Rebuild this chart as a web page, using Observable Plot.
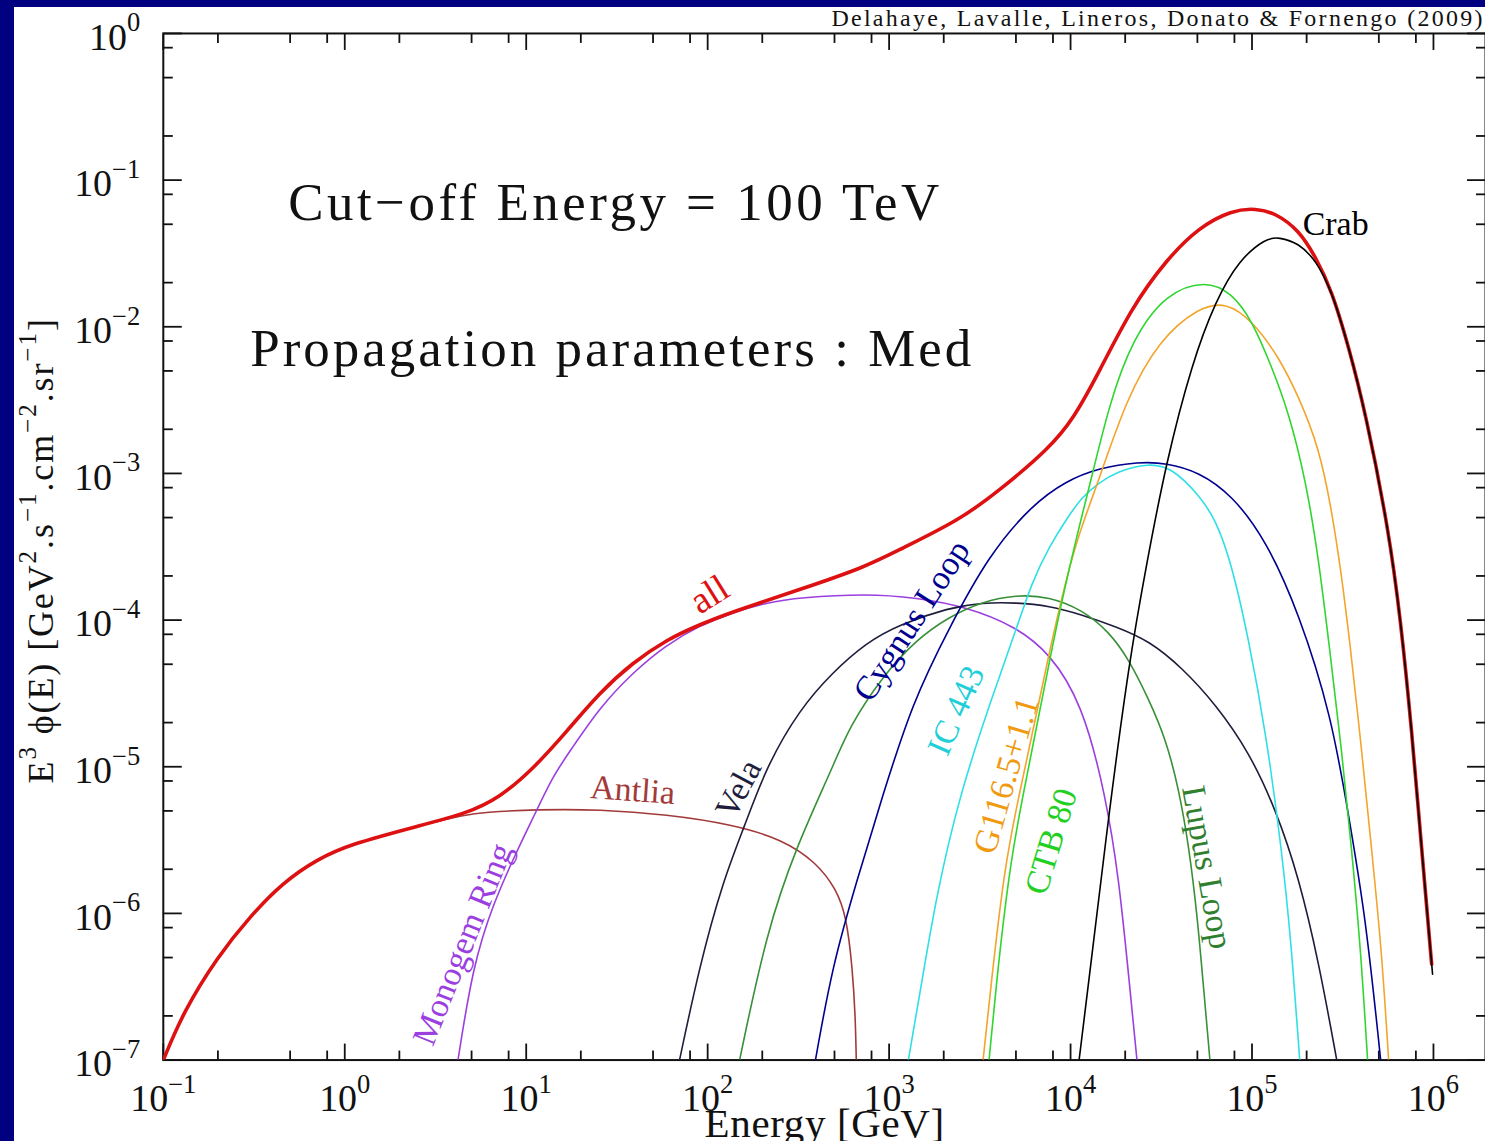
<!DOCTYPE html>
<html><head><meta charset="utf-8">
<script src="https://cdn.jsdelivr.net/npm/d3@7"></script>
<script src="https://cdn.jsdelivr.net/npm/@observablehq/plot@0.6"></script>
<style>
html,body{margin:0;padding:0;background:#000080;width:1485px;height:1141px;overflow:hidden;}
#panel{position:absolute;left:14px;top:7px;width:1471px;height:1134px;background:#fff;overflow:hidden;}
#panel svg{display:block;}
</style></head>
<body><div id="panel"></div>
<script>
// ---------------- data: [log10 E (GeV), log10 E^3 phi(E)] ----------------
const allLog = [[-1.000,-7.000],[-0.890,-6.673],[-0.703,-6.298],[-0.521,-6.019],[-0.340,-5.788],[-0.152,-5.631],[0.029,-5.529],[0.398,-5.406],[0.673,-5.318],[0.855,-5.209],[1.036,-5.018],[1.223,-4.760],[1.405,-4.494],[1.587,-4.290],[1.774,-4.133],[1.955,-4.031],[2.137,-3.943],[2.506,-3.793],[2.874,-3.636],[3.056,-3.520],[3.386,-3.320],[3.606,-3.118],[3.882,-2.830],[4.019,-2.622],[4.157,-2.308],[4.338,-1.866],[4.526,-1.546],[4.707,-1.321],[4.889,-1.205],[5.021,-1.192],[5.131,-1.226],[5.258,-1.341],[5.351,-1.525],[5.439,-1.750],[5.533,-2.138],[5.626,-2.588],[5.753,-3.384],[5.819,-3.997],[5.880,-4.746],[5.935,-5.563],[5.990,-6.346]];
const antliaLog = [[-1.000,-7.000],[-0.890,-6.673],[-0.703,-6.298],[-0.521,-6.019],[-0.340,-5.788],[-0.152,-5.631],[0.029,-5.529],[0.398,-5.406],[0.673,-5.325],[0.761,-5.311],[1.058,-5.291],[1.405,-5.291],[1.774,-5.325],[2.137,-5.393],[2.412,-5.495],[2.599,-5.652],[2.709,-5.835],[2.764,-6.019],[2.797,-6.360],[2.814,-6.700],[2.819,-7.000]];
const monogemLog = [[0.624,-7.000],[0.706,-6.360],[0.816,-5.938],[0.948,-5.577],[1.047,-5.325],[1.146,-5.066],[1.240,-4.896],[1.405,-4.596],[1.587,-4.358],[1.774,-4.167],[1.955,-4.038],[2.137,-3.949],[2.324,-3.881],[2.506,-3.847],[2.874,-3.820],[3.150,-3.847],[3.425,-3.909],[3.700,-4.045],[3.882,-4.222],[4.063,-4.562],[4.195,-5.202],[4.267,-5.767],[4.322,-6.448],[4.366,-7.000]];
const velaLog = [[1.845,-7.000],[1.955,-6.360],[2.082,-5.788],[2.203,-5.406],[2.324,-4.998],[2.506,-4.610],[2.687,-4.358],[2.874,-4.154],[3.056,-4.031],[3.331,-3.915],[3.513,-3.881],[3.700,-3.881],[3.882,-3.902],[4.063,-3.963],[4.250,-4.045],[4.432,-4.140],[4.614,-4.324],[4.801,-4.576],[4.982,-4.896],[5.131,-5.291],[5.258,-5.754],[5.368,-6.333],[5.467,-7.000]];
const lupusLog = [[2.176,-7.000],[2.324,-6.128],[2.489,-5.543],[2.687,-5.010],[2.781,-4.726],[2.963,-4.385],[3.150,-4.133],[3.331,-3.977],[3.513,-3.874],[3.700,-3.827],[3.882,-3.840],[4.063,-3.929],[4.212,-4.079],[4.322,-4.269],[4.432,-4.542],[4.526,-4.814],[4.597,-5.155],[4.652,-5.543],[4.696,-5.992],[4.729,-6.448],[4.768,-7.000]];
const cygnusLog = [[2.594,-7.000],[2.687,-6.360],[2.819,-5.788],[2.963,-5.202],[3.128,-4.562],[3.331,-4.052],[3.551,-3.554],[3.788,-3.214],[3.975,-3.051],[4.157,-2.962],[4.377,-2.921],[4.526,-2.928],[4.707,-2.989],[4.889,-3.146],[5.076,-3.452],[5.258,-3.949],[5.439,-4.658],[5.533,-5.338],[5.626,-6.019],[5.709,-7.000]];
const ic443Log = [[3.106,-7.000],[3.183,-6.448],[3.260,-5.883],[3.386,-5.202],[3.562,-4.542],[3.700,-4.065],[3.788,-3.738],[3.882,-3.500],[3.975,-3.316],[4.063,-3.159],[4.157,-3.064],[4.250,-2.989],[4.432,-2.928],[4.559,-2.962],[4.707,-3.146],[4.801,-3.316],[4.889,-3.622],[4.982,-4.133],[5.076,-4.766],[5.164,-5.563],[5.219,-6.244],[5.263,-7.000]];
const g116Log = [[3.518,-7.000],[3.562,-6.482],[3.634,-5.699],[3.711,-5.223],[3.794,-4.746],[3.871,-4.290],[3.948,-3.861],[4.036,-3.439],[4.157,-3.044],[4.305,-2.499],[4.487,-2.090],[4.707,-1.866],[4.856,-1.832],[4.999,-1.954],[5.148,-2.206],[5.258,-2.479],[5.368,-2.819],[5.439,-3.248],[5.489,-3.657],[5.538,-4.133],[5.604,-4.882],[5.659,-5.563],[5.714,-6.244],[5.753,-7.000]];
const ctb80Log = [[3.551,-7.000],[3.590,-6.482],[3.662,-5.699],[3.733,-5.223],[3.810,-4.746],[3.882,-4.290],[3.953,-3.861],[4.036,-3.418],[4.113,-3.044],[4.212,-2.533],[4.338,-2.090],[4.526,-1.770],[4.746,-1.682],[4.889,-1.770],[4.999,-1.954],[5.109,-2.274],[5.203,-2.588],[5.296,-3.044],[5.368,-3.588],[5.428,-4.201],[5.494,-4.882],[5.549,-5.563],[5.599,-6.244],[5.637,-7.000]];
const crabLog = [[4.047,-7.000],[4.102,-6.448],[4.212,-5.311],[4.322,-4.290],[4.416,-3.636],[4.526,-2.928],[4.669,-2.247],[4.801,-1.818],[4.927,-1.546],[5.076,-1.396],[5.148,-1.389],[5.258,-1.430],[5.351,-1.546],[5.439,-1.750],[5.533,-2.138],[5.626,-2.588],[5.753,-3.384],[5.819,-3.997],[5.880,-4.746],[5.935,-5.563],[5.995,-6.414]];

// series drawn under the total, then the total, then Crab on top
const series = [
  ["Antlia", antliaLog], ["Monogem Ring", monogemLog], ["Vela", velaLog], ["Lupus Loop", lupusLog],
  ["Cygnus Loop", cygnusLog], ["IC 443", ic443Log], ["G116.5+1.1", g116Log], ["CTB 80", ctb80Log],
  ["all", allLog], ["Crab", crabLog]
];

// curve label anchors (log10 E, log10 flux, rotation)
const curveLabels = [
  ["Antlia", 1.587, -5.160, 4], ["Monogem Ring", 0.650, -6.210, -68], ["Vela", 2.170, -5.150, -62],
  ["Cygnus Loop", 3.125, -4.004, -57], ["IC 443", 3.370, -4.617, -66], ["G116.5+1.1", 3.645, -5.059, -74],
  ["CTB 80", 3.893, -5.509, -73], ["Lupus Loop", 4.752, -5.686, 80], ["Crab", 5.461, -1.301, 0]
];
const allLabel = [["all", 2.010, -3.827, -32]];

const majorExpX = [-1, 0, 1, 2, 3, 4, 5, 6];
const majorExpY = [-7, -6, -5, -4, -3, -2, -1, 0];
const minorMult = [2, 5, 8];

const annot1 = "Cut−off Energy = 100 TeV";
const annot2 = "Propagation parameters : Med";
const credit = "Delahaye, Lavalle, Lineros, Donato & Fornengo (2009)";
const xTitle = "Energy [GeV]";
const yTitle = "E^{3} ϕ(E) [GeV^{2}.s^{−1}.cm^{−2}.sr^{−1}]";

// ---------------- styles ----------------
const colors = {
  "Antlia": "#a33a3a", "Monogem Ring": "#9b3fe0", "Vela": "#1e1e3c", "Lupus Loop": "#389038",
  "Cygnus Loop": "#00008f", "IC 443": "#2edfe6", "G116.5+1.1": "#f2a52a", "CTB 80": "#2fd62f",
  "all": "#dd1111", "Crab": "#000000"
};
const labelColors = Object.assign({}, colors, {"IC 443": "#22cfd8", "G116.5+1.1": "#f09a10", "CTB 80": "#22d022", "Lupus Loop": "#2f7f2f"});

// ---------------- layout ----------------
const W = 1473, H = 1134, mL = 149, mT = 26, mB = 80, mR = 0;
const decadePx = 181.7;
const xMax = 10 ** (-1 + (W - mL - mR) / decadePx);
const FONT = "Liberation Serif, Times New Roman, serif";

const majorX = majorExpX.map(k => 10 ** k);
const minorX = majorX.flatMap(v => minorMult.map(m => m * v)).filter(v => v < xMax);
const majorY = majorExpY.map(k => 10 ** k);
const minorY = majorY.flatMap(v => minorMult.map(m => m * v)).filter(v => v < 1);
const expFmt = d => "10^{" + String(Math.round(Math.log10(d))).replace("-", "−") + "}";

const toRows = pts => pts.map(([le, lf]) => ({E: 10 ** le, F: 10 ** lf}));
const labelRows = arr => arr.map(([t, le, lf, a]) => ({t, E: 10 ** le, F: 10 ** lf, a}));

const tickStyle = {stroke: "#111", strokeWidth: 1.8, fill: "none", label: null};

const marks = [
  Plot.frame({stroke: "#111", strokeWidth: 2}),
  // inward ticks on all four sides
  Plot.axisX(majorX, {anchor: "bottom", tickSize: -16, ...tickStyle}),
  Plot.axisX(minorX, {anchor: "bottom", tickSize: -9, ...tickStyle}),
  Plot.axisX(majorX, {anchor: "top", tickSize: -16, ...tickStyle}),
  Plot.axisX(minorX, {anchor: "top", tickSize: -9, ...tickStyle}),
  Plot.axisY(majorY, {anchor: "left", tickSize: -19, ...tickStyle}),
  Plot.axisY(minorY, {anchor: "left", tickSize: -10, ...tickStyle}),
  Plot.axisY(majorY, {anchor: "right", tickSize: -19, ...tickStyle}),
  Plot.axisY(minorY, {anchor: "right", tickSize: -10, ...tickStyle}),
  // tick labels
  Plot.axisX(majorX, {anchor: "bottom", tickSize: 0, tickPadding: 24, tickFormat: expFmt, fontSize: 38, fontFamily: FONT, fill: "#111", label: null}),
  Plot.axisY(majorY, {anchor: "left", tickSize: 0, tickPadding: 23, tickFormat: expFmt, fontSize: 38, fontFamily: FONT, fill: "#111", dy: 4, label: null}),
];

for (const [name, pts] of series) {
  marks.push(Plot.line(toRows(pts), {
    x: "E", y: "F", stroke: colors[name], strokeWidth: name === "all" ? 3.6 : 1.6,
    curve: "basis", clip: "frame"
  }));
}

marks.push(
  Plot.text(labelRows(curveLabels), {x: "E", y: "F", text: "t", rotate: "a", fill: d => labelColors[d.t], fontSize: 34, fontFamily: FONT}),
  Plot.text(labelRows(allLabel), {x: "E", y: "F", text: "t", rotate: "a", fill: labelColors["all"], fontSize: 38, fontFamily: FONT}),
  Plot.text([annot1], {frameAnchor: "top-left", dx: 125, dy: 187, textAnchor: "start", lineAnchor: "bottom", fontSize: 53, fontFamily: FONT, fill: "#111"}),
  Plot.text([annot2], {frameAnchor: "top-left", dx: 87, dy: 333, textAnchor: "start", lineAnchor: "bottom", fontSize: 53, fontFamily: FONT, fill: "#111"}),
  Plot.text([credit], {frameAnchor: "top-right", dx: -3, dy: -7, textAnchor: "end", lineAnchor: "bottom", fontSize: 24, fontFamily: FONT, fill: "#111"}),
  Plot.text([xTitle], {frameAnchor: "bottom", dy: 77, lineAnchor: "bottom", fontSize: 41, fontFamily: FONT, fill: "#111"}),
  Plot.text([yTitle], {frameAnchor: "left", dx: -110, dy: 237, rotate: -90, textAnchor: "start", lineAnchor: "bottom", fontSize: 36, fontFamily: FONT, fill: "#111"})
);

const chart = Plot.plot({
  width: W, height: H, marginLeft: mL, marginTop: mT, marginBottom: mB, marginRight: mR,
  style: {background: "transparent", fontFamily: FONT, color: "#111", overflow: "visible"},
  x: {type: "log", domain: [0.1, xMax]},
  y: {type: "log", domain: [1e-7, 1]},
  color: {type: "identity"},
  marks
});
document.getElementById("panel").appendChild(chart);

// ---------------- superscripts & text widths ----------------
const NS = "http://www.w3.org/2000/svg";
function supify(el) {
  const s = el.textContent;
  if (!s.includes("^{")) return;
  const fs = parseFloat(getComputedStyle(el).fontSize) || 34;
  const parts = s.split(/\^\{([^}]*)\}/);
  el.textContent = "";
  let raised = false;
  parts.forEach((p, i) => {
    if (!p) return;
    const t = document.createElementNS(NS, "tspan");
    if (i % 2) {
      t.setAttribute("font-size", (fs * 0.7).toFixed(1));
      if (!raised) t.setAttribute("dy", (-fs * 0.48).toFixed(1));
      raised = true;
    } else if (raised) {
      t.setAttribute("dy", (fs * 0.48).toFixed(1));
      raised = false;
    }
    t.textContent = p;
    el.appendChild(t);
  });
}
chart.querySelectorAll("text").forEach(supify);

const widths = new Map([[annot1, 652], [annot2, 722], [credit, 652], [xTitle, 240], [yTitle.replace(/\^\{([^}]*)\}/g, "$1"), 465]]);
chart.querySelectorAll("text").forEach(el => {
  const w = widths.get(el.textContent);
  if (w) { el.setAttribute("textLength", w); el.setAttribute("lengthAdjust", "spacing"); }
});
</script>
</body></html>
